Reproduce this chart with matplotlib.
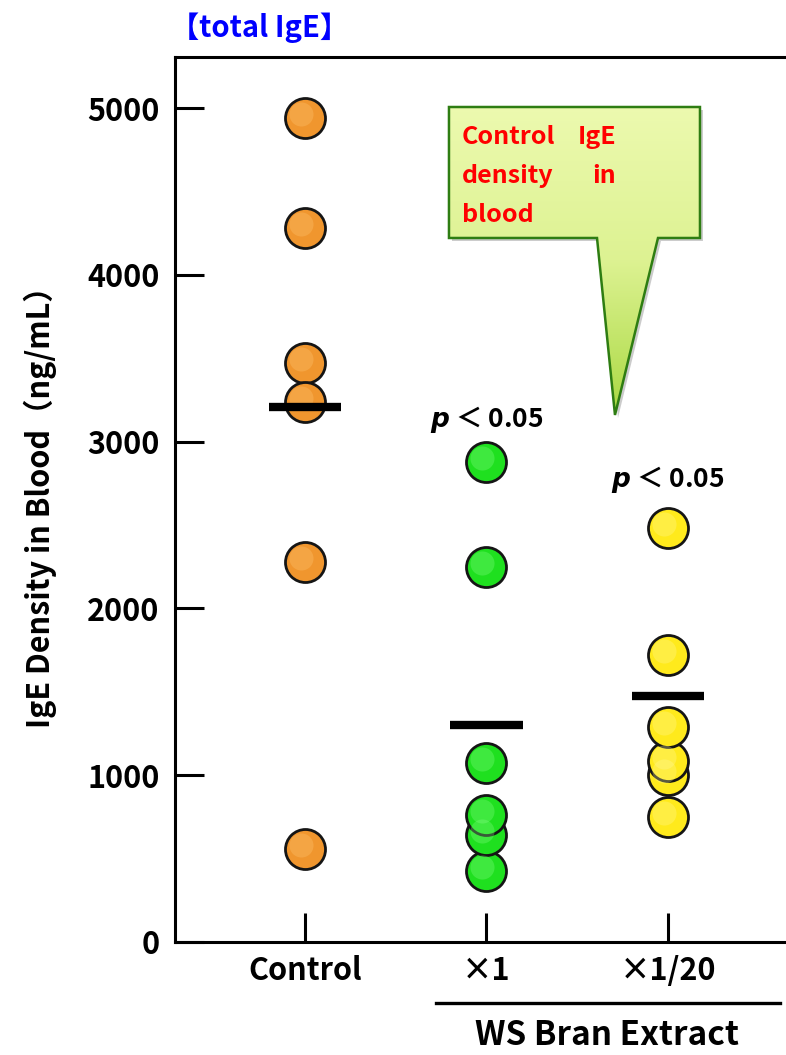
import numpy as np
import matplotlib
matplotlib.use('Agg')
import matplotlib.pyplot as plt
from matplotlib.patches import Polygon
from matplotlib.transforms import ScaledTranslation
from matplotlib.colors import LinearSegmentedColormap

plt.rcParams['font.family'] = ['Noto Sans CJK JP', 'DejaVu Sans']
plt.rcParams['font.weight'] = 'bold'
plt.rcParams['mathtext.fontset'] = 'custom'
plt.rcParams['mathtext.it'] = 'DejaVu Sans:italic:bold'
plt.rcParams['mathtext.rm'] = 'Noto Sans CJK JP:bold'

# data (ng/mL)
groups = ['Control', '×1', '×1/20']
control = [4940, 4281, 3471, 3237, 2278, 557]
ws_x1 = [426, 641, 761, 1073, 2248, 2878]
ws_x20 = [749, 1001, 1085, 1289, 1721, 2482]
means = [3207, 1301, 1475]
p_labels = ['', '$p$ ＜ 0.05', '$p$ ＜ 0.05']
p_pos = [0, 3130, 2770]

colors = ['#F0962E', '#1FE01F', '#FFEA1C']
highlights = ['#FFC878', '#8CFF8C', '#FFFAA0']

fig = plt.figure(figsize=(7.86, 10.55), dpi=100)
ax = fig.add_axes([175 / 786, 1 - 942 / 1055, 611 / 786, 885 / 1055])

shift = ScaledTranslation(-3 / 72, 3 / 72, fig.dpi_scale_trans)
for i, vals in enumerate([control, ws_x1, ws_x20]):
    xs = np.full(len(vals), i)
    ax.scatter(xs, vals, s=830, color=colors[i], edgecolor='#151515',
               linewidth=2.0, zorder=3)
    ax.scatter(xs, vals, s=300, color=highlights[i], alpha=0.3,
               linewidth=0, zorder=3.1, transform=ax.transData + shift)
    ax.hlines(means[i], i - 0.2, i + 0.2, color='black', lw=6, zorder=4)
    if p_labels[i]:
        ax.text(i, p_pos[i], p_labels[i], ha='center', va='center',
                fontsize=19, fontweight='bold')

ax.set_xlim(-0.716, 2.65)
ax.set_ylim(0, 5306)
ax.set_xticks(range(len(groups)))
ax.set_xticklabels(groups)
ax.set_yticks([0, 1000, 2000, 3000, 4000, 5000])
ax.tick_params(axis='both', direction='in', length=21, width=2.2,
               labelsize=22)
ax.tick_params(axis='y', pad=11)
ax.tick_params(axis='x', pad=9)
for lab in ax.get_xticklabels() + ax.get_yticklabels():
    lab.set_fontweight('bold')
for side in ['left', 'top', 'bottom']:
    ax.spines[side].set_linewidth(2.2)
ax.spines['right'].set_visible(False)

# group bracket under the extract doses
ax.plot([0.427, 0.99], [-0.069, -0.069], color='black', lw=2.4,
        transform=ax.transAxes, clip_on=False)
ax.text(0.707, -0.106, 'WS Bran Extract', transform=ax.transAxes,
        ha='center', va='center', fontsize=24, fontweight='bold')

ax.text(-0.008, 1.033, '【total IgE】', transform=ax.transAxes, ha='left',
        va='center', fontsize=21, fontweight='bold', color='#0000FF')

fig.text(40 / 786, 1 - 500 / 1055, 'IgE Density in Blood（ng/mL）',
         rotation=90, ha='center', va='center', fontsize=22,
         fontweight='bold')

# callout
verts = [(0.4484, 0.9435), (0.8592, 0.9435), (0.8592, 0.7955),
         (0.7905, 0.7955), (0.7201, 0.5955), (0.6907, 0.7955),
         (0.4484, 0.7955)]
shadow = Polygon(verts, closed=True, transform=ax.transAxes + ScaledTranslation(
    3 / 100, -3 / 100, fig.dpi_scale_trans), facecolor='#999999', alpha=0.5,
    edgecolor='none', zorder=5)
ax.add_patch(shadow)
bubble = Polygon(verts, closed=True, transform=ax.transAxes,
                 facecolor='none', edgecolor='#2E7D12', lw=1.8, zorder=7)
ax.add_patch(bubble)
grad = np.linspace(0, 1, 256).reshape(-1, 1)
cmap = LinearSegmentedColormap.from_list('bub', ['#EDFAB0', '#DDF292', '#A8D840'])
img = ax.imshow(grad, cmap=cmap, aspect='auto', origin='upper',
                extent=[0.44, 0.87, 0.59, 0.95],
                transform=ax.transAxes, zorder=6, interpolation='bilinear')
img.set_clip_path(bubble)

for y, left, right in [(0.9096, 'Control', 'IgE'), (0.8655, 'density', 'in'),
                       (0.8215, 'blood', '')]:
    ax.text(0.4697, y, left, transform=ax.transAxes, ha='left', va='center',
            fontsize=18, fontweight='bold', color='#FF0000', zorder=8)
    if right:
        ax.text(0.7218, y, right, transform=ax.transAxes, ha='right',
                va='center', fontsize=18, fontweight='bold', color='#FF0000',
                zorder=8)

fig.savefig('out.png', dpi=100)
